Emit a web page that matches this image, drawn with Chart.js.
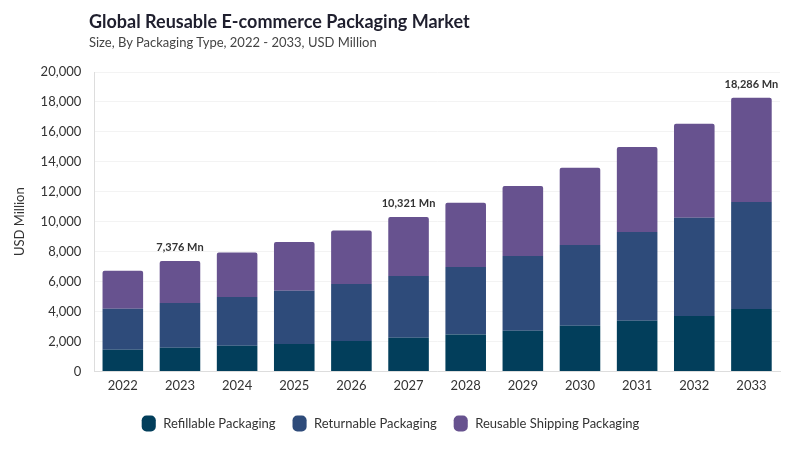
<!DOCTYPE html>
<html>
<head>
<meta charset="utf-8">
<script src="https://cdn.jsdelivr.net/npm/chart.js@4"></script>
<style>
  body { margin: 0; background: #fff; font-family: Lato, "Noto Sans", sans-serif; }
  #wrap { position: relative; width: 800px; height: 450px; }
  #title { position: absolute; left: 89px; top: 10px; font-size: 18px; font-weight: 700; color: #1f1f2e; }
  #sub { position: absolute; left: 89px; top: 34px; font-size: 13px; color: #444; }
</style>
</head>
<body>
<div id="wrap">
  <div id="title">Global Reusable E-commerce Packaging Market</div>
  <div id="sub">Size, By Packaging Type, 2022 - 2033, USD Million</div>
  <canvas id="chart" width="800" height="450"></canvas>
</div>
<script>
const years = ["2022","2023","2024","2025","2026","2027","2028","2029","2030","2031","2032","2033"];
const refillable = [1450,1580,1710,1830,2030,2250,2470,2720,3050,3390,3700,4160];
const returnable = [2740,2990,3260,3560,3810,4120,4500,4990,5390,5920,6570,7150];
const shipping = [2540,2806,2980,3250,3580,3951,4300,4670,5170,5680,6280,6976];
const totalLabels = {1: "7,376 Mn", 5: "10,321 Mn", 11: "18,286 Mn"};

const totalsPlugin = {
  id: "totals",
  afterDatasetsDraw(chart) {
    const ctx = chart.ctx;
    const meta = chart.getDatasetMeta(2);
    ctx.save();
    ctx.font = "bold 11px Lato";
    ctx.fillStyle = "#333";
    ctx.textAlign = "center";
    ctx.textBaseline = "bottom";
    for (const i in totalLabels) {
      const bar = meta.data[i];
      ctx.fillText(totalLabels[i], bar.x, bar.y - 8);
    }
    ctx.restore();
  }
};

Chart.defaults.font.family = "Lato";
Chart.defaults.color = "#444";

const ctx = document.getElementById("chart").getContext("2d");
const myChart = new Chart(ctx, {
  type: "bar",
  data: {
    labels: years,
    datasets: [
      { label: "Refillable Packaging", data: refillable, backgroundColor: "#023e5b" },
      { label: "Returnable Packaging", data: returnable, backgroundColor: "#2e4b7a" },
      { label: "Reusable Shipping Packaging", data: shipping, backgroundColor: "#67528f", borderRadius: { topLeft: 2, topRight: 2 }, borderSkipped: "bottom" },
    ],
  },
  options: {
    responsive: false,
    animation: false,
    layout: { padding: { top: 72, left: 0, right: 20, bottom: 10 } },
    datasets: { bar: { categoryPercentage: 0.71, barPercentage: 1 } },
    plugins: {
      legend: {
        position: "bottom",
        labels: {
          usePointStyle: true,
          pointStyle: "rectRounded",
          boxHeight: 14,
          pointStyleWidth: 16,
          padding: 16,
          font: { size: 13 },
          color: "#333",
        },
      },
      tooltip: { enabled: false },
    },
    scales: {
      x: {
        stacked: true,
        grid: { display: false, drawTicks: false },
        border: { color: "#ddd" },
        ticks: { font: { size: 13 }, color: "#333", padding: 7 },
      },
      y: {
        stacked: true,
        min: 0,
        max: 20000,
        ticks: { stepSize: 2000, font: { size: 13 }, color: "#333", padding: 13 },
        grid: { color: "#f3f3f3", drawTicks: false },
        border: { color: "#ddd" },
        title: { display: true, text: "USD Million", font: { size: 13 }, color: "#333", padding: { top: 12, bottom: 0 } },
      },
    },
  },
  plugins: [totalsPlugin],
});
</script>
</body>
</html>
